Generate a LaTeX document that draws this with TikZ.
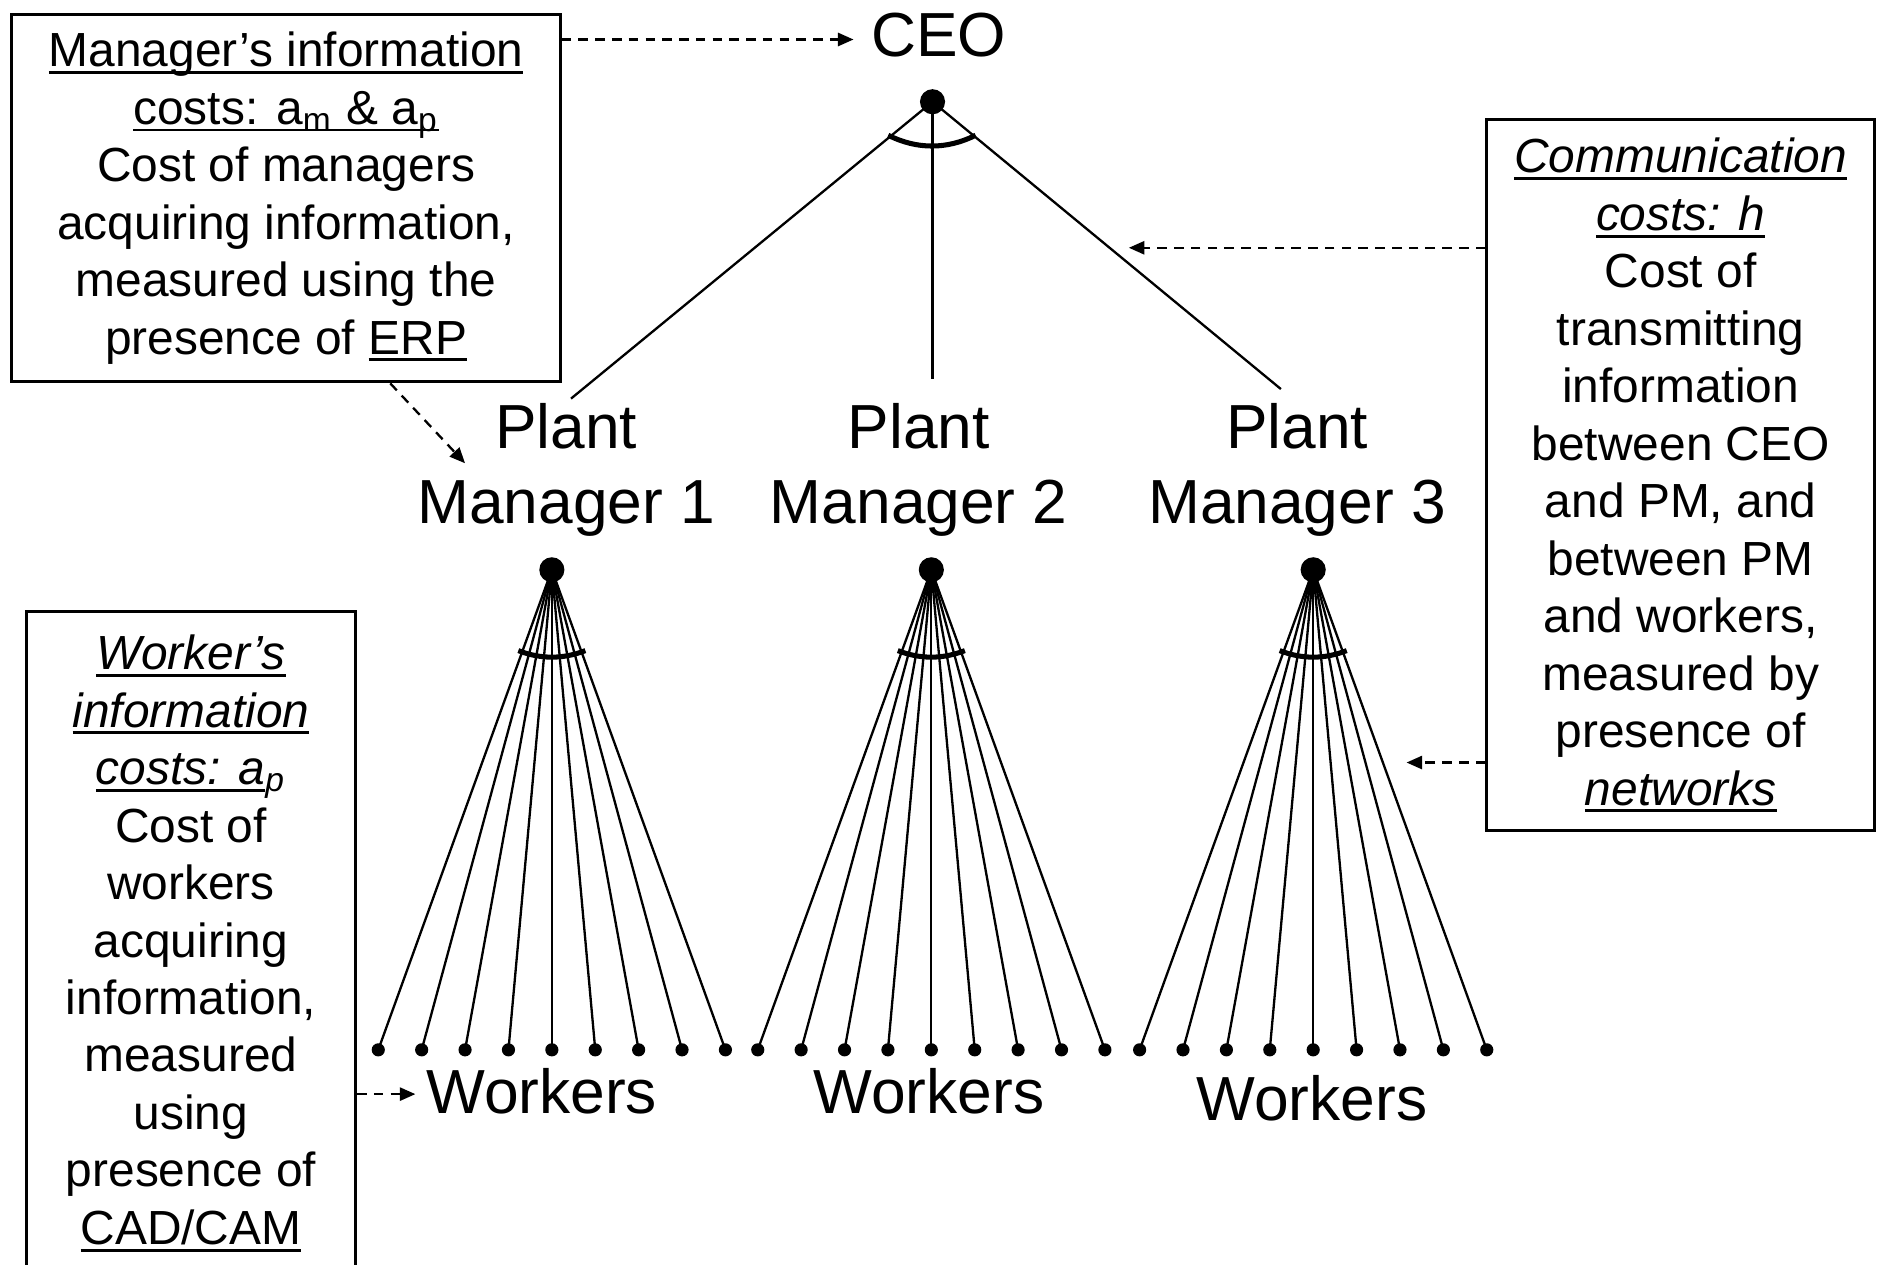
\documentclass[tikz,border=0pt]{standalone}
\usepackage{fontspec}
\setmainfont{Liberation Sans}
\usetikzlibrary{arrows.meta}
\newcommand{\undl}[1]{{\setbox0\hbox{#1}\rlap{\rule[-0.15em]{\wd0}{0.06em}}\box0}}
\tikzset{
	infobox/.style={draw,line width=0.7pt,inner sep=0pt,align=center,font=\fontsize{11.38pt}{13.66pt}\selectfont},
	biglabel/.style={inner sep=0pt,align=center,font=\fontsize{14.8pt}{17.65pt}\selectfont},
	topdot/.style={circle,fill,inner sep=0pt,minimum size=0.21cm},
	wdot/.style={circle,fill,inner sep=0pt,minimum size=0.11cm},
	arcline/.style={line width=1.2pt},
	dasharrow/.style={line width=0.55pt,dash pattern=on 0.08cm off 0.06cm,-{Triangle[length=0.13cm,width=0.11cm]}}
}
\begin{document}
\begin{tikzpicture}[line width=0.55pt]
	\useasboundingbox (0,0) rectangle (15.68,10.56);
	\clip (0,0) rectangle (15.68,10.56);
	\node[infobox,minimum width=4.58cm,minimum height=3.07cm] (mgrbox) at (2.39,8.905) {\undl{Manager’s information}\\\undl{costs: a\textsubscript{m} \& a\textsubscript{p}}\\Cost of managers\\acquiring information,\\measured using the\\presence of \undl{ERP}};
	\node[infobox,minimum width=3.24cm,minimum height=5.94cm] (commbox) at (14.04,6.59) {\undl{\itshape Communication}\\\undl{\itshape costs: h}\\Cost of\\transmitting\\information\\between CEO\\and PM, and\\between PM\\and workers,\\measured by\\presence of\\\undl{\itshape networks}};
	\node[infobox,minimum width=2.75cm,minimum height=5.54cm] (wrkbox) at (1.595,2.68) {\undl{\itshape Worker’s}\\\undl{\itshape information}\\\undl{\itshape costs: a}\textsubscript{\itshape p}\\Cost of\\workers\\acquiring\\information,\\measured\\using\\presence of\\\undl{CAD/CAM}};
	\node[biglabel,anchor=base] (ceolbl) at (7.84,10.085) {CEO};
	\node[topdot] (ceo) at (7.79,9.71) {};
	\node[biglabel] (pmlbl1) at (4.73,6.635) {Plant\\Manager 1};
	\node[biglabel] (pmlbl2) at (7.675,6.635) {Plant\\Manager 2};
	\node[biglabel] (pmlbl3) at (10.835,6.635) {Plant\\Manager 3};
	\coordinate (pmtop1) at (4.77,7.23);
	\coordinate (pmtop2) at (7.79,7.39);
	\coordinate (pmtop3) at (10.70,7.31);
	\foreach \p in {1,2,3}
		\draw (ceo.center) -- (pmtop\p);
	\draw[arcline] (ceo) ++(-0.37,-0.28) .. controls +(0.24,-0.12) and +(-0.24,-0.12) .. ++(0.73,0);
	\foreach \p/\x in {1/4.61,2/7.78,3/10.97}{
		\node[topdot] (pm\p) at (\x,5.80) {};
		\foreach \k in {1,...,9}{
			\node[wdot] (w\p-\k) at ({\x+(\k-5)*0.3625},1.79) {};
			\draw (pm\p.center) -- (w\p-\k.center);
		}
		\draw[arcline] (pm\p) ++(-0.28,-0.675) .. controls +(0.187,-0.073) and +(-0.187,-0.073) .. ++(0.56,0);
	}
	\node[biglabel,anchor=base] (wlbl1) at (4.525,1.26) {Workers};
	\node[biglabel,anchor=base] (wlbl2) at (7.76,1.26) {Workers};
	\node[biglabel,anchor=base] (wlbl3) at (10.96,1.20) {Workers};
	\coordinate (ceotip) at (7.13,10.23);
	\coordinate (pmtip) at (3.885,6.69);
	\coordinate (hubtip) at (9.43,8.49);
	\coordinate (wtip) at (11.75,4.19);
	\coordinate (wlbltip) at (3.47,1.42);
	\draw[dasharrow] (mgrbox.east |- ceotip) -- (ceotip);
	\draw[dasharrow] (mgrbox.south -| 3.26,0) -- (pmtip);
	\draw[dasharrow] (commbox.west |- hubtip) -- (hubtip);
	\draw[dasharrow] (commbox.west |- wtip) -- (wtip);
	\draw[dasharrow] (wrkbox.east |- wlbltip) -- (wlbltip);
\end{tikzpicture}
\end{document}
